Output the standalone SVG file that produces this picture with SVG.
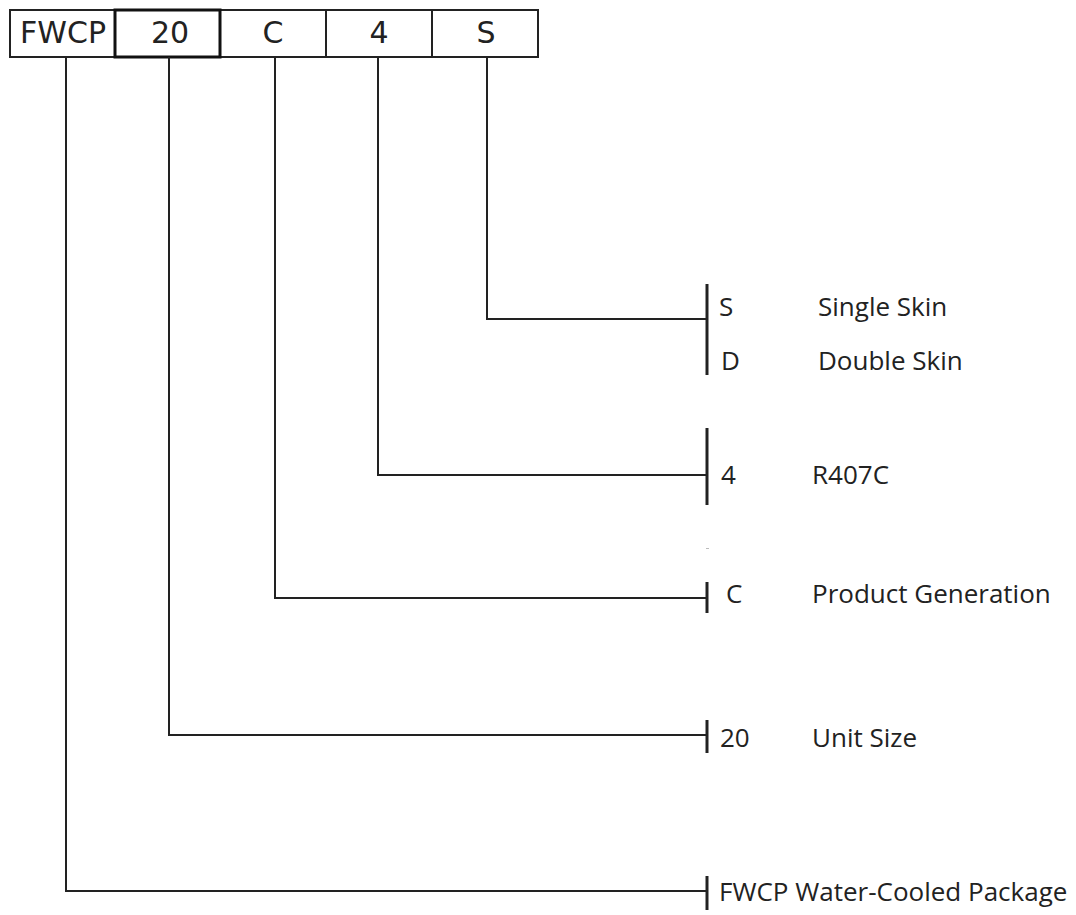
<svg xmlns="http://www.w3.org/2000/svg" width="1076" height="915" viewBox="0 0 1076 915">
<style>
.cell{fill:#fff;stroke:#222;stroke-width:2}
.bold{fill:none;stroke:#111;stroke-width:3}
.bt{font-family:"DejaVu Sans",sans-serif;font-size:30px;fill:#222;text-anchor:middle}
.ln{fill:none;stroke:#222;stroke-width:2}
.bar{stroke:#222;stroke-width:3}
.lt{font-family:"Open Sans","Liberation Sans",sans-serif;font-size:26px;fill:#222}
</style>
<rect width="1076" height="915" fill="#fff"/>
<g id="code-box">
<g id="cell-fwcp"><rect class="cell" x="10" y="10" width="105" height="47"/><text class="bt" x="63" y="43">FWCP</text></g>
<g id="cell-c"><rect class="cell" x="220" y="10" width="106" height="47"/><text class="bt" x="273" y="43">C</text></g>
<g id="cell-4"><rect class="cell" x="326" y="10" width="106" height="47"/><text class="bt" x="379" y="43">4</text></g>
<g id="cell-s"><rect class="cell" x="432" y="10" width="106" height="47"/><text class="bt" x="486" y="43">S</text></g>
<g id="cell-20"><rect class="bold" x="115" y="10" width="105" height="47"/><text class="bt" x="170" y="43">20</text></g>
</g>
<g id="connectors">
<polyline class="ln" points="487,57 487,319 707,319"/>
<polyline class="ln" points="378,57 378,475 707,475"/>
<polyline class="ln" points="275,57 275,598 707,598"/>
<polyline class="ln" points="169,57 169,735 707,735"/>
<polyline class="ln" points="66,57 66,891 707,891"/>
<line class="bar" x1="707" y1="284" x2="707" y2="375"/>
<line class="bar" x1="707" y1="428" x2="707" y2="505"/>
<line x1="706" y1="548.5" x2="709" y2="548.5" stroke="#bbb" stroke-width="1"/>
<line class="bar" x1="707" y1="582" x2="707" y2="613"/>
<line class="bar" x1="707" y1="720" x2="707" y2="753"/>
<line class="bar" x1="707" y1="876" x2="707" y2="910"/>
</g>
<g id="opt-s"><text class="lt" x="719" y="316">S</text><text class="lt" x="818" y="316">Single Skin</text></g>
<g id="opt-d"><text class="lt" x="721" y="370">D</text><text class="lt" x="818" y="370">Double Skin</text></g>
<g id="opt-4"><text class="lt" x="721" y="484">4</text><text class="lt" x="812" y="484">R407C</text></g>
<g id="opt-c"><text class="lt" x="726" y="603">C</text><text class="lt" x="812" y="603">Product Generation</text></g>
<g id="opt-20"><text class="lt" x="720" y="747">20</text><text class="lt" x="812" y="747">Unit Size</text></g>
<g id="opt-fwcp"><text class="lt" x="719" y="901">FWCP Water-Cooled Package</text></g>
</svg>
